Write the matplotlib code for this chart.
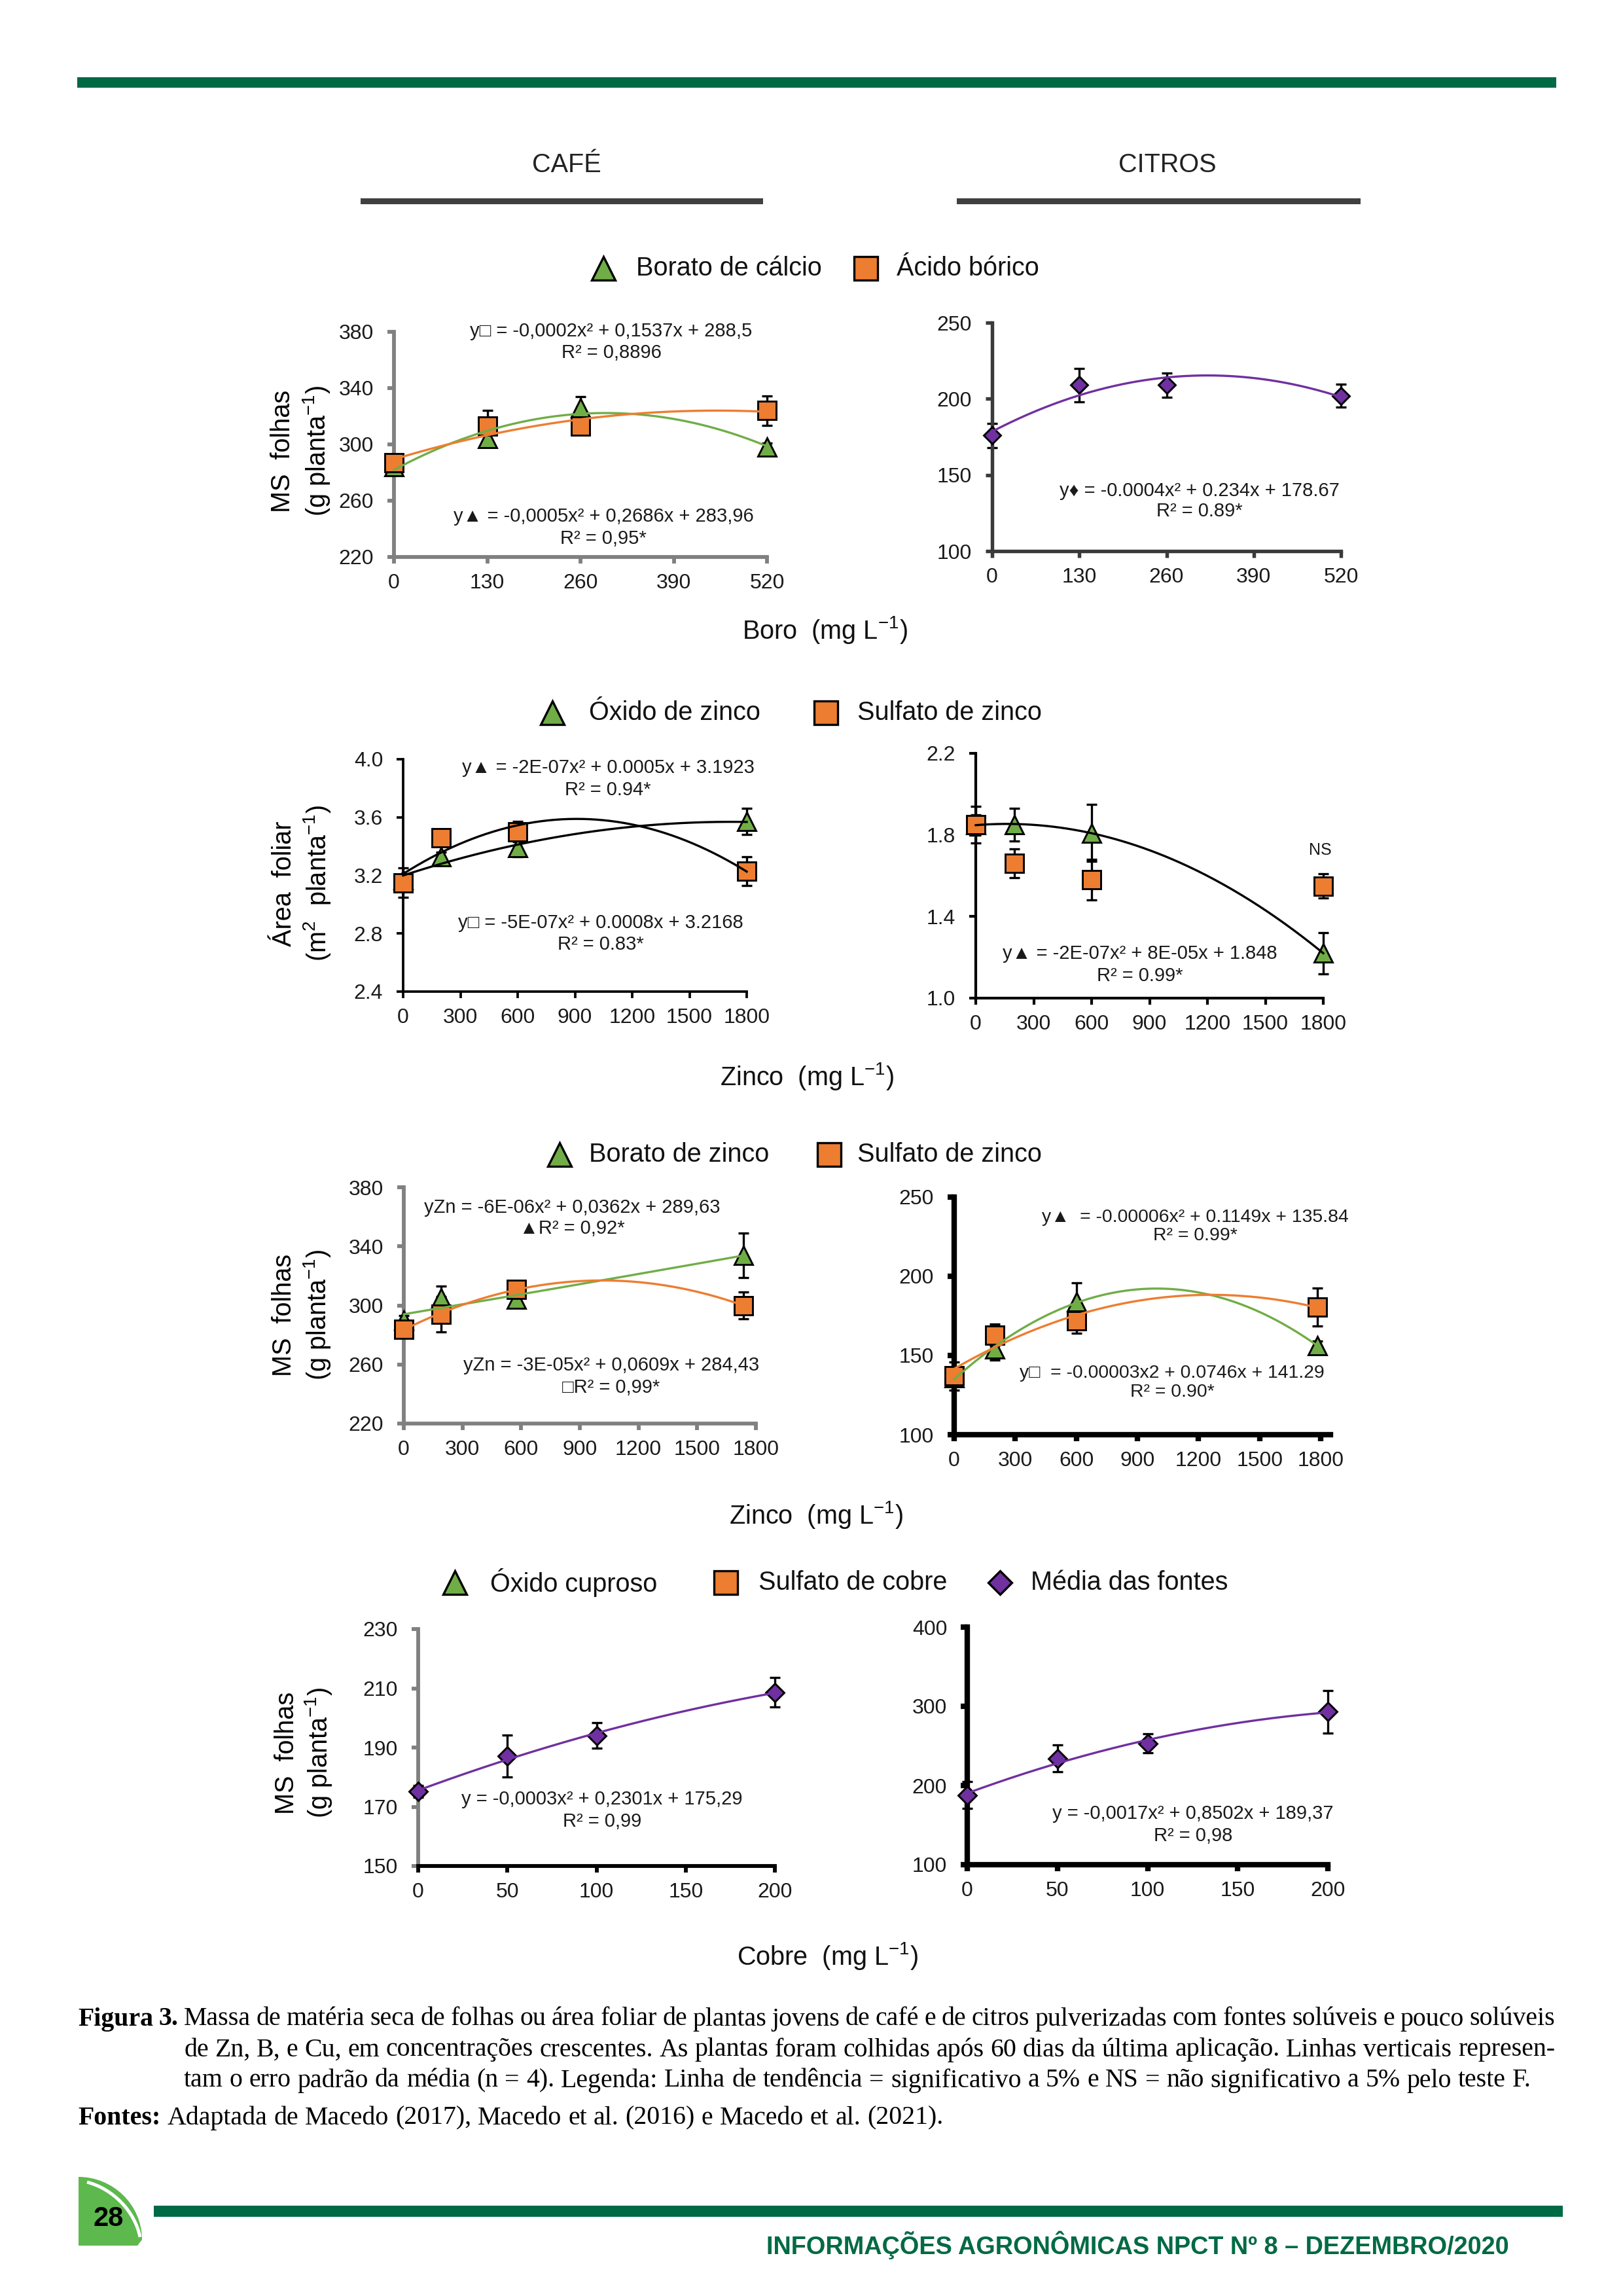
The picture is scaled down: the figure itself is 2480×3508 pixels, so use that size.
"""Figura 3 - MS folhas / area foliar de cafe e citros com fontes de B, Zn e Cu."""

import matplotlib

matplotlib.use("Agg")
import matplotlib.pyplot as plt
import numpy as np
from matplotlib.patches import PathPatch, Rectangle
from matplotlib.path import Path

W, H = 2480, 3508
SANS = ["Liberation Sans", "DejaVu Sans"]
SERIF = ["Liberation Serif", "DejaVu Serif"]
GREEN = "#70AD47"
ORANGE = "#ED7D31"
PURPLE = "#7030A0"
DARK_GREEN = "#006A45"

plt.rcParams["font.family"] = SANS
plt.rcParams["mathtext.fontset"] = "custom"
plt.rcParams["mathtext.rm"] = "Liberation Sans"
plt.rcParams["mathtext.it"] = "Liberation Sans:italic"
plt.rcParams["mathtext.bf"] = "Liberation Sans:bold"

# ---- data ---------------------------------------------------------------
boro_x = [0, 130, 260, 520]
cafe_borato_calcio = [284, 304, 326, 298]
cafe_borato_calcio_err = [3, 3, 8, 3]
cafe_acido_borico = [287, 313, 313, 324]
cafe_acido_borico_err = [4, 11, 5, 10.5]
citros_boro_media = [176, 209, 209, 202]
citros_boro_media_err = [8, 11, 8, 7.5]

zinco_x = [0, 200, 600, 1800]
cafe_oxido_zinco_af = [3.17, 3.33, 3.39, 3.57]
cafe_oxido_zinco_af_err = [0.03, 0.03, 0.06, 0.09]
cafe_sulfato_zinco_af = [3.15, 3.46, 3.50, 3.23]
cafe_sulfato_zinco_af_err = [0.10, 0.04, 0.07, 0.10]
citros_oxido_zinco_af = [1.85, 1.85, 1.81, 1.22]
citros_oxido_zinco_af_err = [0.05, 0.08, 0.14, 0.10]
citros_sulfato_zinco_af = [1.85, 1.66, 1.58, 1.55]
citros_sulfato_zinco_af_err = [0.09, 0.07, 0.10, 0.06]

cafe_zinco_ms_x = [0, 190, 575, 1735]
cafe_borato_zinco_ms = [290, 305, 304, 334]
cafe_borato_zinco_ms_err = [3, 8, 3, 15]
cafe_sulfato_zinco_ms = [284, 294, 311, 300]
cafe_sulfato_zinco_ms_err = [3, 12, 3, 9]
citros_zinco_ms_x = [0, 200, 600, 1785]
citros_borato_zinco_ms = [136, 154, 184, 156]
citros_borato_zinco_ms_err = [3, 7, 12, 3]
citros_sulfato_zinco_ms = [137, 163, 172, 180.5]
citros_sulfato_zinco_ms_err = [9, 7, 8, 12]

cobre_x = [0, 50, 100, 200]
cafe_cobre_media = [175.1, 187.1, 194.0, 208.6]
cafe_cobre_media_err = [2, 7, 4.3, 5]
citros_cobre_media = [188, 234, 253, 293]
citros_cobre_media_err = [17, 17, 12, 27]

boro_ticks = [0, 130, 260, 390, 520]
zinco_ticks = [0, 300, 600, 900, 1200, 1500, 1800]
cobre_ticks = [0, 50, 100, 150, 200]

fig = plt.figure(figsize=(W / 300, H / 300), dpi=300)
bg = fig.add_axes([0, 0, 1, 1])
bg.set_xlim(0, W)
bg.set_ylim(H, 0)
bg.axis("off")
renderer = fig.canvas.get_renderer()


def panel(x0, x1, ytop, ybot, xlim, xticks, ylim, yticks, ylabels=None,
          spine="black", lw=1.2, bottom_spine=None):
    ax = fig.add_axes([x0 / W, 1 - ybot / H, (x1 - x0) / W, (ybot - ytop) / H])
    ax.patch.set_alpha(0)
    ax.set_xlim(xlim)
    ax.set_ylim(ylim)
    ax.set_xticks(xticks)
    ax.set_yticks(yticks, ylabels if ylabels else [str(t) for t in yticks])
    for side in ("top", "right"):
        ax.spines[side].set_visible(False)
    ax.spines["left"].set_color(spine)
    ax.spines["left"].set_linewidth(lw)
    ax.spines["bottom"].set_color(bottom_spine or spine)
    ax.spines["bottom"].set_linewidth(lw)
    ax.tick_params(axis="y", direction="out", length=2.4, width=lw,
                   color=spine, labelsize=7.7, labelcolor="#1a1a1a", pad=5)
    ax.tick_params(axis="x", direction="out", length=2.4, width=lw,
                   color=bottom_spine or spine, labelsize=7.7,
                   labelcolor="#1a1a1a", pad=3.5)
    return ax


def series(ax, x, y, err, marker, color, ms, line=None):
    eb = ax.errorbar(x, y, yerr=err, fmt="none", ecolor="black",
                     elinewidth=0.8, capsize=2, capthick=0.8, zorder=2)
    for art in eb.lines[1] + eb.lines[2]:
        art.set_clip_on(False)
    ax.plot(x, y, ls="none", marker=marker, ms=ms, mfc=color, mec="black",
            mew=0.7, zorder=3, clip_on=False)
    if line:
        coef = np.polyfit(x, y, 2)
        xx = np.linspace(x[0], x[-1], 200)
        ax.plot(xx, np.polyval(coef, xx), color=line, lw=0.8, zorder=4,
                clip_on=False)


def note(x, y, s, size=7):
    bg.text(x, y, s, fontsize=size, ha="center", va="center",
            color="#1a1a1a", family=SANS)


# ---- panels --------------------------------------------------------------
ax1 = panel(602, 1172, 507, 851, (0, 520), boro_ticks, (220, 380),
            [220, 260, 300, 340, 380], spine="#808080", lw=1.4)
series(ax1, boro_x, cafe_borato_calcio, cafe_borato_calcio_err, "^", GREEN, 6.8, GREEN)
series(ax1, boro_x, cafe_acido_borico, cafe_acido_borico_err, "s", ORANGE, 6.5, ORANGE)
note(934, 506, "y□ = -0,0002x² + 0,1537x + 288,5")
note(934, 539, "R² = 0,8896")
note(922, 789, "y▲ = -0,0005x² + 0,2686x + 283,96")
note(922, 823, "R² = 0,95*")

ax2 = panel(1516, 2049, 493, 842, (0, 520), boro_ticks, (100, 250),
            [100, 150, 200, 250], spine="#3a3a3a", lw=1.3)
series(ax2, boro_x, citros_boro_media, citros_boro_media_err, "D", PURPLE, 4.4, PURPLE)
note(1833, 750, "y♦ = -0.0004x² + 0.234x + 178.67")
note(1833, 781, "R² = 0.89*")

ax3 = panel(616, 1141, 1160, 1515, (0, 1800), zinco_ticks, (2.4, 4.0),
            [2.4, 2.8, 3.2, 3.6, 4.0], ["2.4", "2.8", "3.2", "3.6", "4.0"],
            spine="black", lw=0.9)
series(ax3, zinco_x, cafe_oxido_zinco_af, cafe_oxido_zinco_af_err, "^", GREEN, 6.8, "black")
series(ax3, zinco_x, cafe_sulfato_zinco_af, cafe_sulfato_zinco_af_err, "s", ORANGE, 6.5, "black")
note(929, 1173, "y▲ = -2E-07x² + 0.0005x + 3.1923")
note(929, 1207, "R² = 0.94*")
note(918, 1410, "y□ = -5E-07x² + 0.0008x + 3.2168")
note(918, 1443, "R² = 0.83*")

ax4 = panel(1491, 2022, 1151, 1525, (0, 1800), zinco_ticks, (1.0, 2.2),
            [1.0, 1.4, 1.8, 2.2], ["1.0", "1.4", "1.8", "2.2"],
            spine="black", lw=1.0)
series(ax4, zinco_x, citros_oxido_zinco_af, citros_oxido_zinco_af_err, "^", GREEN, 6.8, "black")
series(ax4, zinco_x, citros_sulfato_zinco_af, citros_sulfato_zinco_af_err, "s", ORANGE, 6.5)
note(1742, 1457, "y▲ = -2E-07x² + 8E-05x + 1.848")
note(1742, 1491, "R² = 0.99*")
note(2017, 1299, "NS", size=6)

ax5 = panel(617, 1155, 1814, 2175, (0, 1800), zinco_ticks, (220, 380),
            [220, 260, 300, 340, 380], spine="#808080", lw=1.4)
series(ax5, cafe_zinco_ms_x, cafe_borato_zinco_ms, cafe_borato_zinco_ms_err, "^", GREEN, 6.8, GREEN)
series(ax5, cafe_zinco_ms_x, cafe_sulfato_zinco_ms, cafe_sulfato_zinco_ms_err, "s", ORANGE, 6.5, ORANGE)
note(874, 1845, "yZn = -6E-06x² + 0,0362x + 289,63")
note(874, 1877, "▲R² = 0,92*")
note(934, 2086, "yZn = -3E-05x² + 0,0609x + 284,43")
note(934, 2120, "□R² = 0,99*")

ax6 = panel(1458, 2033, 1829, 2192, (0, 1848), zinco_ticks, (100, 250),
            [100, 150, 200, 250], spine="black", lw=2.0)
series(ax6, citros_zinco_ms_x, citros_borato_zinco_ms, citros_borato_zinco_ms_err, "^", GREEN, 6.8, GREEN)
series(ax6, citros_zinco_ms_x, citros_sulfato_zinco_ms, citros_sulfato_zinco_ms_err, "s", ORANGE, 6.5, ORANGE)
note(1826, 1860, "y▲  = -0.00006x² + 0.1149x + 135.84", size=6.8)
note(1826, 1888, "R² = 0.99*", size=6.8)
note(1791, 2098, "y□  = -0.00003x2 + 0.0746x + 141.29", size=6.8)
note(1791, 2127, "R² = 0.90*", size=6.8)

ax7 = panel(639, 1184, 2489, 2851, (0, 200), cobre_ticks, (150, 230),
            [150, 170, 190, 210, 230], spine="#808080", lw=1.4,
            bottom_spine="black")
series(ax7, cobre_x, cafe_cobre_media, cafe_cobre_media_err, "D", PURPLE, 4.7, PURPLE)
note(920, 2749, "y = -0,0003x² + 0,2301x + 175,29")
note(920, 2783, "R² = 0,99")

ax8 = panel(1478, 2029, 2486, 2849, (0, 200), cobre_ticks, (100, 400),
            [100, 200, 300, 400], spine="black", lw=2.0)
series(ax8, cobre_x, citros_cobre_media, citros_cobre_media_err, "D", PURPLE, 4.7, PURPLE)
note(1823, 2771, "y = -0,0017x² + 0,8502x + 189,37")
note(1823, 2805, "R² = 0,98")

# ---- page furniture --------------------------------------------------------
bg.add_patch(Rectangle((118, 118), 2260, 16, color=DARK_GREEN, lw=0))
bg.add_patch(Rectangle((551, 303), 615, 9, color="#404040", lw=0))
bg.add_patch(Rectangle((1462, 303), 617, 9, color="#404040", lw=0))
bg.text(866, 252, "CAFÉ", fontsize=9.5, ha="center", va="center", color="#222222")
bg.text(1784, 252, "CITROS", fontsize=9.5, ha="center", va="center", color="#222222")

legends = [
    (410, [("^", GREEN, 922, 972, "Borato de cálcio"),
           ("s", ORANGE, 1323, 1370, "Ácido bórico")]),
    (1089, [("^", GREEN, 844, 900, "Óxido de zinco"),
            ("s", ORANGE, 1262, 1310, "Sulfato de zinco")]),
    (1764, [("^", GREEN, 855, 900, "Borato de zinco"),
            ("s", ORANGE, 1267, 1310, "Sulfato de zinco")]),
    (2418, [("^", GREEN, 695, 749, "Óxido cuproso"),
            ("s", ORANGE, 1109, 1159, "Sulfato de cobre"),
            ("D", PURPLE, 1528, 1575, "Média das fontes")]),
]
for ypos, items in legends:
    for marker, color, mx, tx, label in items:
        ms = 6.0 if marker == "D" else 8.5
        bg.plot([mx], [ypos], marker=marker, ms=ms, mfc=color, mec="black",
                mew=0.8, ls="none")
        bg.text(tx, ypos, label, fontsize=9.5, ha="left", va="center",
                color="#111111")

for xpos, ypos, label in [(1260, 963, "Boro  (mg L$^{-1}$)"),
                          (1233, 1645, "Zinco  (mg L$^{-1}$)"),
                          (1247, 2315, "Zinco  (mg L$^{-1}$)"),
                          (1265, 2988, "Cobre  (mg L$^{-1}$)")]:
    bg.text(xpos, ypos, label, fontsize=9.5, ha="center", va="center",
            color="#111111")

for x_a, x_b, ypos, top, sub in [
    (432, 483, 689, "MS  folhas", "(g planta$^{-1}$)"),
    (434, 484, 1350, "Área  foliar", "(m$^{2}$  planta$^{-1}$)"),
    (434, 484, 2009, "MS  folhas", "(g planta$^{-1}$)"),
    (438, 486, 2678, "MS  folhas", "(g planta$^{-1}$)"),
]:
    bg.text(x_a, ypos, top, fontsize=9.5, rotation=90, ha="center", va="center")
    bg.text(x_b, ypos, sub, fontsize=9.5, rotation=90, ha="center", va="center")

# caption (justified by hand)
line3 = ("tam o erro padrão da média (n = 4). Legenda: Linha de tendência = "
         "significativo a 5% e NS = não significativo a 5% pelo teste F.")
probe = bg.text(0, 0, line3, fontsize=10, family=SERIF)
cap_fs = 10 * 2059 / probe.get_window_extent(renderer).width
probe.remove()
space = cap_fs * 300 / 72 * 0.25


def caption_line(y, x0, x1, segments, justify):
    words = [(w, wt) for txt, wt in segments for w in txt.split()]
    arts = [bg.text(0, y, w, fontsize=cap_fs, fontweight=wt, family=SERIF,
                    ha="left", va="center", color="black") for w, wt in words]
    widths = [a.get_window_extent(renderer).width for a in arts]
    gap = (x1 - x0 - sum(widths)) / (len(arts) - 1) if justify else space
    x = x0
    for art, wd in zip(arts, widths):
        art.set_x(x)
        x += wd + gap


caption_line(3085, 119, 2376, [
    ("Figura 3.", "bold"),
    ("Massa de matéria seca de folhas ou área foliar de plantas jovens de café "
     "e de citros pulverizadas com fontes solúveis e pouco solúveis", "normal")],
    True)
caption_line(3132, 281, 2376, [
    ("de Zn, B, e Cu, em concentrações crescentes. As plantas foram colhidas "
     "após 60 dias da última aplicação. Linhas verticais represen-", "normal")],
    True)
caption_line(3179, 281, 2376, [(line3, "normal")], False)
caption_line(3236, 119, 2376, [
    ("Fontes:", "bold"),
    ("Adaptada de Macedo (2017), Macedo et al. (2016) e Macedo et al. (2021).",
     "normal")], False)

# footer
bg.add_patch(Rectangle((235, 3370), 2153, 17, color=DARK_GREEN, lw=0))
leaf = Path([(120, 3326), (172, 3326), (217, 3368), (217, 3422),
             (210, 3431), (120, 3431), (120, 3326)],
            [Path.MOVETO, Path.CURVE4, Path.CURVE4, Path.CURVE4,
             Path.LINETO, Path.LINETO, Path.CLOSEPOLY])
bg.add_patch(PathPatch(leaf, color="#5DB84E", lw=0))
vein = Path([(133, 3334), (172, 3344), (206, 3378), (214, 3418)],
            [Path.MOVETO, Path.CURVE4, Path.CURVE4, Path.CURVE4])
bg.add_patch(PathPatch(vein, fc="none", ec="white", lw=1.2))
bg.text(166, 3390, "28", fontsize=10, fontweight="bold", ha="center",
        va="center", color="black")
foot = bg.text(2306, 3430, "INFORMAÇÕES AGRONÔMICAS NPCT Nº 8 – DEZEMBRO/2020",
               fontsize=9, fontweight="bold", ha="right", va="center",
               color=DARK_GREEN)
foot.set_fontsize(9 * 1135 / foot.get_window_extent(renderer).width)

fig.savefig("out.png", dpi=300)
print("Created: out.png")
